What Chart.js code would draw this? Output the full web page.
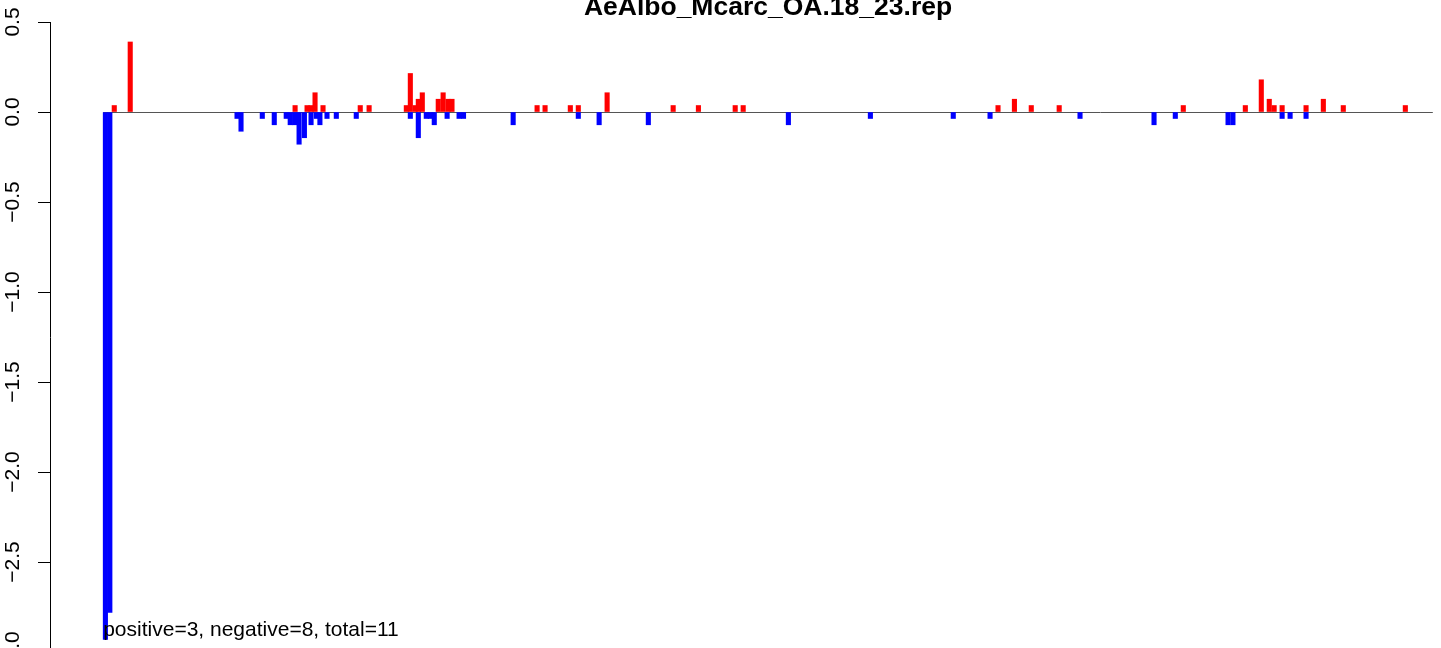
<!DOCTYPE html>
<html>
<head>
<meta charset="utf-8">
<script src="https://cdn.jsdelivr.net/npm/chart.js@4"></script>
<style>
html, body { margin: 0; padding: 0; background: #ffffff; overflow: hidden; width: 1441px; height: 648px; }
#wrap { position: relative; width: 1441px; height: 648px; overflow: hidden; background: #ffffff; }
#c { position: absolute; left: 0; top: 0; }
</style>
</head>
<body>
<div id="wrap"><canvas id="c" width="1500" height="680"></canvas></div>
<script>
// ---- data ----
const chartTitle = "AeAlbo_Mcarc_OA.18_23.rep";
const summaryText = "positive=3, negative=8, total=11";

// positive (red) bars: position along the x range and value
const redPos = [2.5, 6.1, 43.3, 46.0, 46.9, 47.8, 49.6, 58.0, 60.0, 68.4, 69.3, 70.4, 71.1, 72.0,
  75.6, 76.7, 77.8, 78.7, 97.9, 99.7, 105.4, 107.2, 113.7, 128.6, 134.3, 142.6, 144.4,
  201.9, 205.6, 209.4, 215.7, 243.7, 257.7, 261.3, 263.1, 264.2, 266.0, 271.4, 275.3, 279.8, 293.8];
const redVal = [0.036, 0.389, 0.036, 0.036, 0.036, 0.107, 0.036, 0.036, 0.036, 0.036, 0.214, 0.036, 0.071, 0.107,
  0.071, 0.107, 0.071, 0.071, 0.036, 0.036, 0.036, 0.036, 0.107, 0.036, 0.036, 0.036, 0.036,
  0.036, 0.071, 0.036, 0.036, 0.036, 0.036, 0.179, 0.071, 0.036, 0.036, 0.036, 0.071, 0.036, 0.036];

// negative (blue) bars
const bluePos = [0.5, 1.5, 30.2, 31.1, 35.9, 38.6, 41.3, 42.2, 43.2, 44.2, 45.4, 46.9, 48.1, 48.9,
  50.5, 52.6, 57.1, 69.3, 71.1, 72.9, 73.8, 74.7, 77.6, 80.3, 81.3, 92.5, 107.2, 111.9, 123.0,
  154.6, 173.1, 191.8, 200.1, 220.4, 237.1, 241.9, 253.8, 254.9, 266.0, 267.8, 271.4];
const blueVal = [-2.93, -2.78, -0.036, -0.107, -0.036, -0.071, -0.036, -0.071, -0.071, -0.179, -0.143, -0.071, -0.036, -0.071,
  -0.036, -0.036, -0.036, -0.036, -0.143, -0.036, -0.036, -0.071, -0.036, -0.036, -0.036, -0.071, -0.036, -0.071, -0.071,
  -0.071, -0.036, -0.036, -0.036, -0.036, -0.071, -0.036, -0.071, -0.071, -0.036, -0.036, -0.036];

// baseline segment (x range of the bars) and axis ranges
const baselineX = [0, 300];
const xRange = [-12, 312];
const yRange = [-3.0, 0.5];
const yStep = 0.5;
const summaryAt = [0, -2.88];

// ---- drawing ----
const FONT = '"Liberation Sans", Arial, Helvetica, sans-serif';

const baselinePlugin = {
  id: 'baseline',
  beforeDatasetsDraw(chart) {
    const { ctx, scales } = chart;
    const y = Math.round(scales.y.getPixelForValue(0)) + 0.5;
    ctx.save();
    ctx.strokeStyle = '#555555';
    ctx.lineWidth = 1;
    ctx.beginPath();
    ctx.moveTo(scales.x.getPixelForValue(baselineX[0]), y);
    ctx.lineTo(scales.x.getPixelForValue(baselineX[1]), y);
    ctx.stroke();
    ctx.restore();
  }
};

const textPlugin = {
  id: 'rtext',
  afterDatasetsDraw(chart) {
    const { ctx, chartArea, scales } = chart;
    ctx.save();
    ctx.fillStyle = '#000000';
    ctx.font = 'bold 26.5px ' + FONT;
    ctx.textAlign = 'center';
    ctx.textBaseline = 'alphabetic';
    ctx.fillText(chartTitle, (chartArea.left + chartArea.right) / 2, 15);
    ctx.font = '21px ' + FONT;
    ctx.textAlign = 'left';
    ctx.textBaseline = 'middle';
    ctx.fillText(summaryText, scales.x.getPixelForValue(summaryAt[0]), scales.y.getPixelForValue(summaryAt[1]));
    ctx.restore();
  }
};

new Chart(document.getElementById('c'), {
  type: 'bar',
  data: {
    datasets: [
      {
        label: 'positive',
        data: redPos.map((x, i) => ({ x: x, y: redVal[i] })),
        backgroundColor: '#FF0000',
        order: 1
      },
      {
        label: 'negative',
        data: bluePos.map((x, i) => ({ x: x, y: blueVal[i] })),
        backgroundColor: '#0000FF',
        order: 2
      }
    ]
  },
  options: {
    responsive: false,
    animation: false,
    devicePixelRatio: 1,
    layout: { padding: { left: 0, right: 14, top: 22, bottom: 28 } },
    datasets: { bar: { grouped: false, barThickness: 4.43, borderWidth: 0 } },
    plugins: { legend: { display: false }, tooltip: { enabled: false }, title: { display: false } },
    scales: {
      x: { type: 'linear', min: xRange[0], max: xRange[1], offset: false, display: false },
      y: {
        type: 'linear',
        min: yRange[0],
        max: yRange[1],
        afterFit(scale) { scale.width = 50; },
        ticks: {
          stepSize: yStep,
          autoSkip: false,
          minRotation: 90,
          maxRotation: 90,
          crossAlign: 'center',
          padding: 4,
          color: '#000000',
          font: { family: FONT, size: 21 },
          callback: (v) => {
            const s = Math.abs(v).toFixed(1);
            return v < -1e-9 ? '\u2212' + s : s;
          }
        },
        grid: { display: true, drawOnChartArea: false, drawTicks: true, tickLength: 12, color: '#000000', lineWidth: 1 },
        border: { display: true, color: '#000000', width: 1 }
      }
    }
  },
  plugins: [baselinePlugin, textPlugin]
});
</script>
</body>
</html>
